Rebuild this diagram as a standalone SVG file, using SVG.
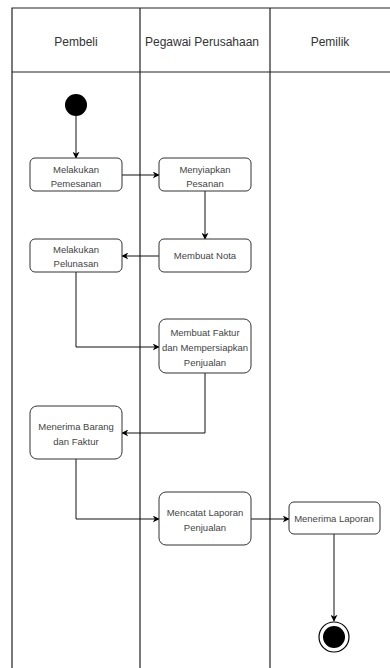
<svg xmlns="http://www.w3.org/2000/svg" width="390" height="668" viewBox="0 0 390 668">
<defs>
<marker id="arr" viewBox="0 0 10 10" refX="9" refY="5" markerWidth="7" markerHeight="7" orient="auto" markerUnits="userSpaceOnUse">
<path d="M0,0 L10,5 L0,10 L3,5 z" fill="#000"/>
</marker>
<style>
.lane{fill:none;stroke:#222;stroke-width:1.2}
.hdr{font-family:"Liberation Sans",Arial,sans-serif;font-size:12px;fill:#333;text-anchor:middle}
.box{fill:#fff;stroke:#333;stroke-width:1}
.t{font-family:"Liberation Sans",Arial,sans-serif;font-size:9.5px;fill:#444;text-anchor:middle}
.c{fill:none;stroke:#111;stroke-width:1}
</style>
</defs>
<rect width="390" height="668" fill="#fff"/>
<g id="lanes">
<path class="lane" d="M12,668 V8 H392"/>
<line class="lane" x1="140" y1="8" x2="140" y2="668"/>
<line class="lane" x1="270" y1="8" x2="270" y2="668"/>
<line class="lane" x1="12" y1="72" x2="392" y2="72"/>
<text class="hdr" x="76" y="46">Pembeli</text>
<text class="hdr" x="202" y="46">Pegawai Perusahaan</text>
<text class="hdr" x="330" y="46">Pemilik</text>
</g>
<g id="connectors">
<line class="c" x1="76" y1="116" x2="76" y2="158" marker-end="url(#arr)"/>
<line class="c" x1="122" y1="175" x2="159" y2="175" marker-end="url(#arr)"/>
<line class="c" x1="205" y1="191" x2="205" y2="239" marker-end="url(#arr)"/>
<line class="c" x1="159" y1="256" x2="122" y2="256" marker-end="url(#arr)"/>
<path class="c" d="M76,272 V347 H159" marker-end="url(#arr)"/>
<path class="c" d="M205,373 V433 H122" marker-end="url(#arr)"/>
<path class="c" d="M76,459 V519 H159" marker-end="url(#arr)"/>
<line class="c" x1="251" y1="519" x2="289" y2="519" marker-end="url(#arr)"/>
<line class="c" x1="334" y1="534" x2="334" y2="621" marker-end="url(#arr)"/>
</g>
<g id="start"><circle cx="76" cy="105" r="11" fill="#000"/></g>
<g id="n1"><rect class="box" x="30" y="158" width="92" height="33" rx="5"/><text class="t" x="76" y="172.5">Melakukan</text><text class="t" x="76" y="186.5">Pemesanan</text></g>
<g id="n2"><rect class="box" x="159" y="158" width="92" height="33" rx="5"/><text class="t" x="205" y="172.5">Menyiapkan</text><text class="t" x="205" y="186.5">Pesanan</text></g>
<g id="n3"><rect class="box" x="159" y="239" width="92" height="33" rx="5"/><text class="t" x="205" y="259">Membuat Nota</text></g>
<g id="n4"><rect class="box" x="30" y="239" width="92" height="33" rx="5"/><text class="t" x="76" y="252.5">Melakukan</text><text class="t" x="76" y="266.5">Pelunasan</text></g>
<g id="n5"><rect class="box" x="159" y="319" width="92" height="54" rx="7"/><text class="t" x="205" y="336">Membuat Faktur</text><text class="t" x="205" y="351">dan Mempersiapkan</text><text class="t" x="205" y="366">Penjualan</text></g>
<g id="n6"><rect class="box" x="30" y="406" width="92" height="53" rx="7"/><text class="t" x="76" y="430">Menerima Barang</text><text class="t" x="76" y="445">dan Faktur</text></g>
<g id="n7"><rect class="box" x="159" y="492" width="92" height="53" rx="7"/><text class="t" x="205" y="516">Mencatat Laporan</text><text class="t" x="205" y="531">Penjualan</text></g>
<g id="n8"><rect class="box" x="289" y="502" width="91" height="32" rx="5"/><text class="t" x="334" y="521.5">Menerima Laporan</text></g>
<g id="end"><circle cx="334" cy="637" r="15" fill="#fff" stroke="#000" stroke-width="1.2"/><circle cx="334" cy="637" r="11" fill="#000"/></g>
</svg>
